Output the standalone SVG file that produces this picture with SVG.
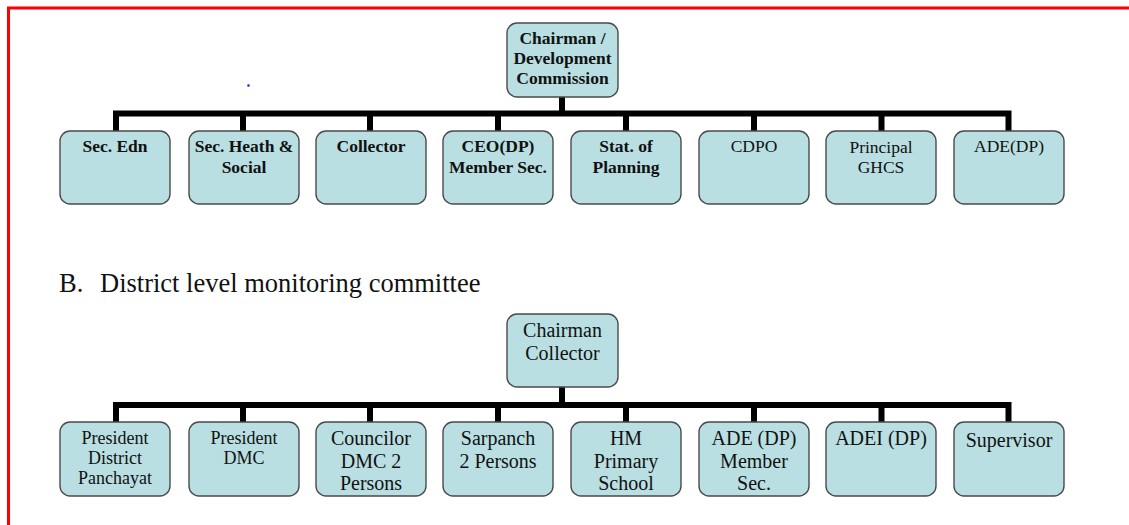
<svg xmlns="http://www.w3.org/2000/svg" width="1129" height="525" viewBox="0 0 1129 525">
<style>
.box{fill:#B9DFE2;stroke:#4a4a4a;stroke-width:1.4}
.t{font-family:"Liberation Serif","Times New Roman",serif;fill:#111;text-anchor:middle}
.b{font-weight:bold;font-size:17.5px}
.r{font-size:17.5px}
.r2{font-size:20px}
.r3{font-size:18px}
.con{stroke:#000;stroke-width:6;fill:none}
</style>
<rect x="0" y="0" width="1129" height="525" fill="#fff"/>
<path d="M8.5 525 V8 H1129" fill="none" stroke="#f00" stroke-width="3"/>
<circle cx="248.5" cy="85.5" r="1.3" fill="#22f"/>
<g id="connectors">
<path class="con" d="M562 97 V113.5 M116 131 V113.5 H1008.5 V131 M243 113.5 V131 M370 113.5 V131 M498 113.5 V131 M626 113.5 V131 M754 113.5 V131 M881.5 113.5 V131"/>
<path class="con" d="M562 387 V405 M116 422 V405 H1008.5 V422 M243 405 V422 M370 405 V422 M498 405 V422 M626 405 V422 M754 405 V422 M881.5 405 V422"/>
</g>
<g id="top-root"><rect class="box" x="507" y="23" width="111" height="74" rx="10"/>
<text class="t b" x="562.5" y="44.3">Chairman /</text><text class="t b" x="562.5" y="64.3">Development</text><text class="t b" x="562.5" y="84.3">Commission</text></g>
<g id="t1"><rect class="box" x="60" y="131" width="110" height="73" rx="10"/><text class="t b" x="115" y="152">Sec. Edn</text></g>
<g id="t2"><rect class="box" x="189" y="131" width="110" height="73" rx="10"/><text class="t b" x="244" y="152">Sec. Heath &amp;</text><text class="t b" x="244" y="173">Social</text></g>
<g id="t3"><rect class="box" x="316" y="131" width="110" height="73" rx="10"/><text class="t b" x="371" y="152">Collector</text></g>
<g id="t4"><rect class="box" x="443" y="131" width="110" height="73" rx="10"/><text class="t b" x="498" y="152">CEO(DP)</text><text class="t b" x="498" y="173">Member Sec.</text></g>
<g id="t5"><rect class="box" x="571" y="131" width="110" height="73" rx="10"/><text class="t b" x="626" y="152">Stat. of</text><text class="t b" x="626" y="173">Planning</text></g>
<g id="t6"><rect class="box" x="699" y="131" width="110" height="73" rx="10"/><text class="t r" x="754" y="152">CDPO</text></g>
<g id="t7"><rect class="box" x="826" y="131" width="110" height="73" rx="10"/><text class="t r" x="881" y="152.5">Principal</text><text class="t r" x="881" y="172.5">GHCS</text></g>
<g id="t8"><rect class="box" x="954" y="131" width="110" height="73" rx="10"/><text class="t r" x="1009" y="152">ADE(DP)</text></g>
<text id="heading" x="59" y="292" font-family="Liberation Serif,'Times New Roman',serif" font-size="26.5" fill="#111">B.<tspan x="100">District level monitoring committee</tspan></text>
<g id="bottom-root"><rect class="box" x="507" y="314" width="111" height="73" rx="10"/>
<text class="t r2" x="562.5" y="337">Chairman</text><text class="t r2" x="562.5" y="360">Collector</text></g>
<g id="b1"><rect class="box" x="60" y="422" width="110" height="74" rx="10"/><text class="t r3" x="115" y="444">President</text><text class="t r3" x="115" y="464">District</text><text class="t r3" x="115" y="484">Panchayat</text></g>
<g id="b2"><rect class="box" x="189" y="422" width="110" height="74" rx="10"/><text class="t r3" x="244" y="444">President</text><text class="t r3" x="244" y="464">DMC</text></g>
<g id="b3"><rect class="box" x="316" y="422" width="110" height="74" rx="10"/><text class="t r2" x="371" y="445">Councilor</text><text class="t r2" x="371" y="467.5">DMC 2</text><text class="t r2" x="371" y="490">Persons</text></g>
<g id="b4"><rect class="box" x="443" y="422" width="110" height="74" rx="10"/><text class="t r2" x="498" y="445">Sarpanch</text><text class="t r2" x="498" y="467.5">2 Persons</text></g>
<g id="b5"><rect class="box" x="571" y="422" width="110" height="74" rx="10"/><text class="t r2" x="626" y="445">HM</text><text class="t r2" x="626" y="467.5">Primary</text><text class="t r2" x="626" y="490">School</text></g>
<g id="b6"><rect class="box" x="699" y="422" width="110" height="74" rx="10"/><text class="t r2" x="754" y="445">ADE (DP)</text><text class="t r2" x="754" y="467.5">Member</text><text class="t r2" x="754" y="490">Sec.</text></g>
<g id="b7"><rect class="box" x="826" y="422" width="110" height="74" rx="10"/><text class="t r2" x="881" y="445">ADEI (DP)</text></g>
<g id="b8"><rect class="box" x="954" y="422" width="110" height="74" rx="10"/><text class="t r2" x="1009" y="446.5">Supervisor</text></g>
</svg>
